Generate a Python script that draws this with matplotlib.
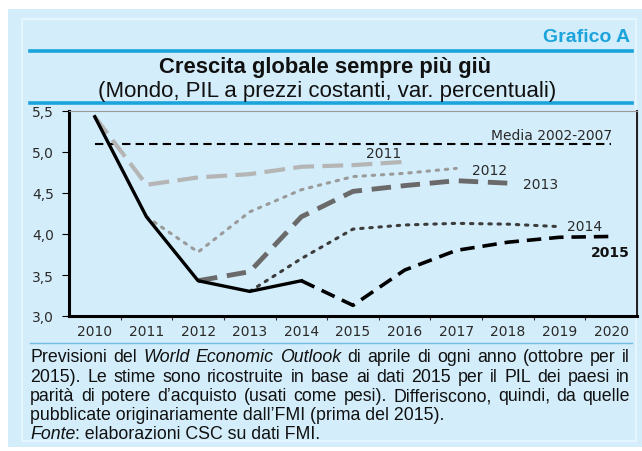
import numpy as np
import matplotlib
matplotlib.use("Agg")
import matplotlib.pyplot as plt
from matplotlib.patches import Rectangle
from matplotlib.lines import Line2D

plt.rcParams['font.family'] = ['Liberation Sans', 'DejaVu Sans']

# Forecast vintages (WEO), world GDP growth, %
years_2011 = [2010, 2011, 2012, 2013, 2014, 2015, 2016]
vals_2011 = [5.43, 4.60, 4.69, 4.73, 4.82, 4.84, 4.88]

years_2012 = [2011, 2012, 2013, 2014, 2015, 2016, 2017]
vals_2012 = [4.21, 3.78, 4.27, 4.54, 4.70, 4.74, 4.80]

years_2013 = [2012, 2013, 2014, 2015, 2016, 2017, 2018]
vals_2013 = [3.43, 3.54, 4.21, 4.52, 4.59, 4.65, 4.62]

years_2014 = [2013, 2014, 2015, 2016, 2017, 2018, 2019]
vals_2014 = [3.30, 3.70, 4.06, 4.11, 4.13, 4.12, 4.09]

# 2015 vintage: actuals (solid) then forecast (dashed)
years_act = [2010, 2011, 2012, 2013, 2014]
vals_act = [5.43, 4.21, 3.43, 3.30, 3.43]
years_2015 = [2014, 2015, 2016, 2017, 2018, 2019, 2020]
vals_2015 = [3.43, 3.13, 3.56, 3.80, 3.90, 3.96, 3.97]

media_years = [2010, 2020]
media_val = 5.1

year_ticks = list(range(2010, 2021))
y_ticks = [3.0, 3.5, 4.0, 4.5, 5.0, 5.5]

BG = '#d4edfa'
BLUE = '#1ba3dc'
WIDE = 'DejaVu Sans'

fig = plt.figure(figsize=(6.42, 4.52), dpi=100)
fig.patch.set_facecolor('white')

W, H = 642.0, 452.0
def fx(px): return px / W
def fy(py): return 1 - py / H

# panel background
fig.patches.append(Rectangle((fx(8), fy(448)), fx(642) - fx(8), fy(10) - fy(448),
                             transform=fig.transFigure, facecolor=BG, edgecolor='none', zorder=-2))
fig.patches.append(Rectangle((fx(22), fy(442)), fx(636) - fx(22), fy(20) - fy(442),
                             transform=fig.transFigure, facecolor='none', edgecolor='#e8f7fe',
                             lw=1.2, zorder=-1))

# header lines
for yy, lw, col in [(52, 2.6, BLUE), (104, 2.6, BLUE), (344, 1.0, '#6cbfe3')]:
    fig.lines.append(Line2D([fx(30), fx(632)], [fy(yy), fy(yy)], transform=fig.transFigure,
                            color=col, lw=lw))

fig.text(fx(630), fy(38), 'Grafico A', ha='right', va='center', color=BLUE,
         fontsize=14, fontweight='bold')
fig.text(fx(325), fy(68), 'Crescita globale sempre più giù', ha='center', va='center',
         fontsize=15.8, fontweight='bold', color='#111111')
fig.text(fx(327), fy(91), '(Mondo, PIL a prezzi costanti, var. percentuali)', ha='center',
         va='center', fontsize=16, color='#111111')

ax = fig.add_axes([fx(69), fy(317), fx(637) - fx(69), fy(112) - fy(317)])
ax.set_facecolor('none')

ax.plot(media_years, [media_val, media_val], color='black', lw=1.5, dashes=(4, 2.5))
ax.plot(years_2011, vals_2011, color='#b5b5b5', lw=3, dashes=(5, 2), solid_capstyle='butt')
ax.plot(years_2012, vals_2012, color='#9a9a9a', lw=2.2, dashes=(0.8, 2.2), dash_capstyle='round')
ax.plot(years_2013, vals_2013, color='#6a6a6a', lw=3.5, dashes=(4, 2))
ax.plot(years_2014, vals_2014, color='#3c3c3c', lw=2.2, dashes=(0.8, 2.2), dash_capstyle='round')
ax.plot(years_act, vals_act, color='black', lw=2.4)
ax.plot(years_2015, vals_2015, color='black', lw=2.6, dashes=(4, 2.2))

lab = dict(fontsize=10, family=WIDE, color='#2a2a2a', va='center')
ax.text(2020.02, 5.205, 'Media 2002-2007', ha='right', **lab)
ax.text(2015.6, 4.99, '2011', ha='center', **lab)
ax.text(2017.65, 4.78, '2012', ha='center', **lab)
ax.text(2018.64, 4.61, '2013', ha='center', **lab)
ax.text(2019.49, 4.10, '2014', ha='center', **lab)
ax.text(2019.99, 3.78, '2015', ha='center', fontsize=10, family=WIDE, color='#111111',
        va='center', fontweight='bold')

ax.set_xlim(2009.5, 2020.5)
ax.set_ylim(3.0, 5.5)
ax.set_xticks([y + 0.5 for y in year_ticks[:-1]])
ax.set_xticks(year_ticks, minor=True)
ax.set_xticklabels([])
ax.set_xticklabels([str(y) for y in year_ticks], minor=True, family=WIDE)
ax.tick_params(axis='x', which='major', direction='out', length=3, width=0.8, color='#333333')
ax.tick_params(axis='x', which='minor', length=0, labelsize=10, labelcolor='#2a2a2a', pad=6)
ax.set_yticks(y_ticks)
ax.set_yticklabels([f'{v:.1f}'.replace('.', ',') for v in y_ticks], family=WIDE)
ax.tick_params(axis='y', direction='out', length=5, width=0.8, labelsize=10,
               labelcolor='#2a2a2a', pad=6)

ax.spines['left'].set_linewidth(2.2)
ax.spines['bottom'].set_linewidth(2.2)
ax.spines['right'].set_linewidth(1.5)
ax.spines['right'].set_color('#222222')
ax.spines['top'].set_linewidth(0.8)
ax.spines['top'].set_color('#9a9a9a')

# footnote with italic pieces; first three lines justified
note_lines = [
    [('Previsioni del ', 'normal'), ('World Economic Outlook', 'italic'),
     (' di aprile di ogni anno (ottobre per il', 'normal')],
    [('2015). Le stime sono ricostruite in base ai dati 2015 per il PIL dei paesi in', 'normal')],
    [('parità di potere d\u2019acquisto (usati come pesi). Differiscono, quindi, da quelle', 'normal')],
    [('pubblicate originariamente dall\u2019FMI (prima del 2015).', 'normal')],
    [('Fonte', 'italic'), (': elaborazioni CSC su dati FMI.', 'normal')],
]
note_y = [358, 377.5, 397, 416, 434.5]
justify = [True, True, True, False, False]
FS = 12.8
x_left, x_right = 30.0, 630.0

renderer = fig.canvas.get_renderer()

def text_width(s, style):
    t = fig.text(0, 0, s, fontsize=FS, style=style)
    w = t.get_window_extent(renderer=renderer).width
    t.remove()
    return w

for parts, yy, just in zip(note_lines, note_y, justify):
    if just:
        # split into word tokens keeping style; pieces not separated by a space are glued
        words = []
        prev_space = True
        for s, style in parts:
            toks = s.split(' ')
            for i, tok in enumerate(toks):
                if tok == '':
                    continue
                if i == 0 and not prev_space and words:
                    words[-1].append((tok, style))
                else:
                    words.append([(tok, style)])
            prev_space = s.endswith(' ')
        widths = [sum(text_width(tok, st) for tok, st in w) for w in words]
        gap = (x_right - x_left - sum(widths)) / (len(words) - 1)
        x = x_left
        for w, wd in zip(words, widths):
            xx = x
            for tok, st in w:
                t = fig.text(fx(xx), fy(yy), tok, ha='left', va='center', fontsize=FS,
                             style=st, color='#111111')
                xx += t.get_window_extent(renderer=renderer).width
            x += wd + gap
    else:
        x = x_left
        for s, style in parts:
            t = fig.text(fx(x), fy(yy), s, ha='left', va='center', fontsize=FS,
                         style=style, color='#111111')
            x += t.get_window_extent(renderer=renderer).width

fig.savefig('out.png', dpi=100, facecolor=fig.get_facecolor())
